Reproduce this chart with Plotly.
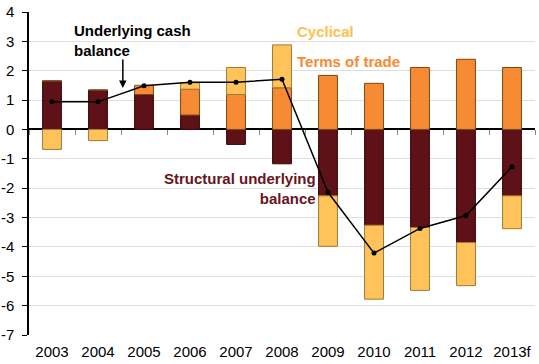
import plotly.graph_objects as go

years = ["2003", "2004", "2005", "2006", "2007", "2008", "2009", "2010", "2011", "2012", "2013f"]
structural = [1.65, 1.34, 1.19, 0.49, -0.51, -1.17, -2.26, -3.26, -3.34, -3.85, -2.26]
terms_of_trade = [0.0, 0.0, 0.31, 0.88, 1.19, 1.42, 1.84, 1.57, 2.11, 2.39, 2.11]
cyclical = [-0.68, -0.38, 0.0, 0.22, 0.92, 1.46, -1.72, -2.52, -2.14, -1.47, -1.12]
underlying = [0.94, 0.94, 1.49, 1.61, 1.61, 1.71, -2.14, -4.21, -3.37, -2.93, -1.27]
y_tickvals = [4, 3, 2, 1, 0, -1, -2, -3, -4, -5, -6, -7]
y_ticktext = ["4", "3", "2", "1", "0", "-1", "-2", "-3", "-4", "-5", "-6", "-7"]

C_STRUCT = "#5E1117"
C_TOT = "#F68B33"
C_CYC = "#FFC35A"

fig = go.Figure()
fig.add_trace(go.Bar(x=years, y=structural, marker=dict(color=C_STRUCT, line=dict(color="#3A0A0C", width=1)), name="Structural"))
fig.add_trace(go.Bar(x=years, y=terms_of_trade, marker=dict(color=C_TOT, line=dict(color="#7A4818", width=1)), name="Terms of trade"))
fig.add_trace(go.Bar(x=years, y=cyclical, marker=dict(color=C_CYC, line=dict(color="#9C7A3A", width=1)), name="Cyclical"))
fig.add_trace(go.Scatter(x=years, y=underlying, mode="lines+markers",
                         line=dict(color="black", width=1.5),
                         marker=dict(color="black", size=5), name="Underlying"))
# invisible trace to carry zero-line tick axis
fig.add_trace(go.Scatter(x=years, y=[0]*len(years), xaxis="x2", mode="markers",
                         marker=dict(opacity=0), hoverinfo="skip", showlegend=False))

fig.update_layout(
    width=539, height=364,
    margin=dict(l=29, r=4, t=12, b=29, autoexpand=False),
    barmode="relative",
    bargap=0.59,
    showlegend=False,
    plot_bgcolor="white",
    paper_bgcolor="white",
    font=dict(family="Liberation Sans, Arial, sans-serif", color="black"),
    xaxis=dict(type="category", range=[-0.5, 10.5], showgrid=False, showline=False, ticks="",
               tickfont=dict(size=15), zeroline=False, automargin=False,
               ticklabelstandoff=6),
    xaxis2=dict(type="category", overlaying="x", anchor="free", position=7/11,
                range=[-0.5, 10.5], showline=False, ticks="outside", tickson="boundaries",
                ticklen=5, tickwidth=1, tickcolor="#888888", showticklabels=False,
                showgrid=False, automargin=False),
    yaxis=dict(range=[-7, 4], tickvals=y_tickvals, ticktext=y_ticktext,
               showgrid=True, gridcolor="#DDDDDD", gridwidth=1,
               zeroline=True, zerolinecolor="black", zerolinewidth=1.5,
               showline=True, linecolor="black", linewidth=1.5,
               ticks="outside", ticklen=5, tickcolor="black",
               tickfont=dict(size=15), automargin=False, ticklabelstandoff=5),
)

ann_font = dict(family="Liberation Sans, Arial, sans-serif", size=15)
fig.add_annotation(x=0.43, y=3.03, xref="x", yref="y", text="<b>Underlying cash<br>balance</b>",
                   showarrow=False, xanchor="left", yanchor="middle", align="left",
                   font=dict(ann_font, color="black"))
fig.add_annotation(x=1.54, y=1.41, xref="x", yref="y", text="", showarrow=True,
                   ax=0, ay=-30, arrowhead=2, arrowsize=1, arrowwidth=1.5, arrowcolor="black")
fig.add_annotation(x=5.28, y=3.35, xref="x", yref="y", text="<b>Cyclical</b>",
                   showarrow=False, xanchor="left", yanchor="middle",
                   font=dict(ann_font, color="#FFC050"))
fig.add_annotation(x=5.28, y=2.3, xref="x", yref="y", text="<b>Terms of trade</b>",
                   showarrow=False, xanchor="left", yanchor="middle",
                   font=dict(ann_font, color="#F68B33"))
fig.add_annotation(x=5.78, y=-2.0, xref="x", yref="y", text="<b>Structural underlying<br>balance</b>",
                   showarrow=False, xanchor="right", yanchor="middle", align="right",
                   font=dict(ann_font, color="#6A1420"))

fig.write_html("out.html", config={"displayModeBar": False},
               post_script="document.body.style.margin='0';")
